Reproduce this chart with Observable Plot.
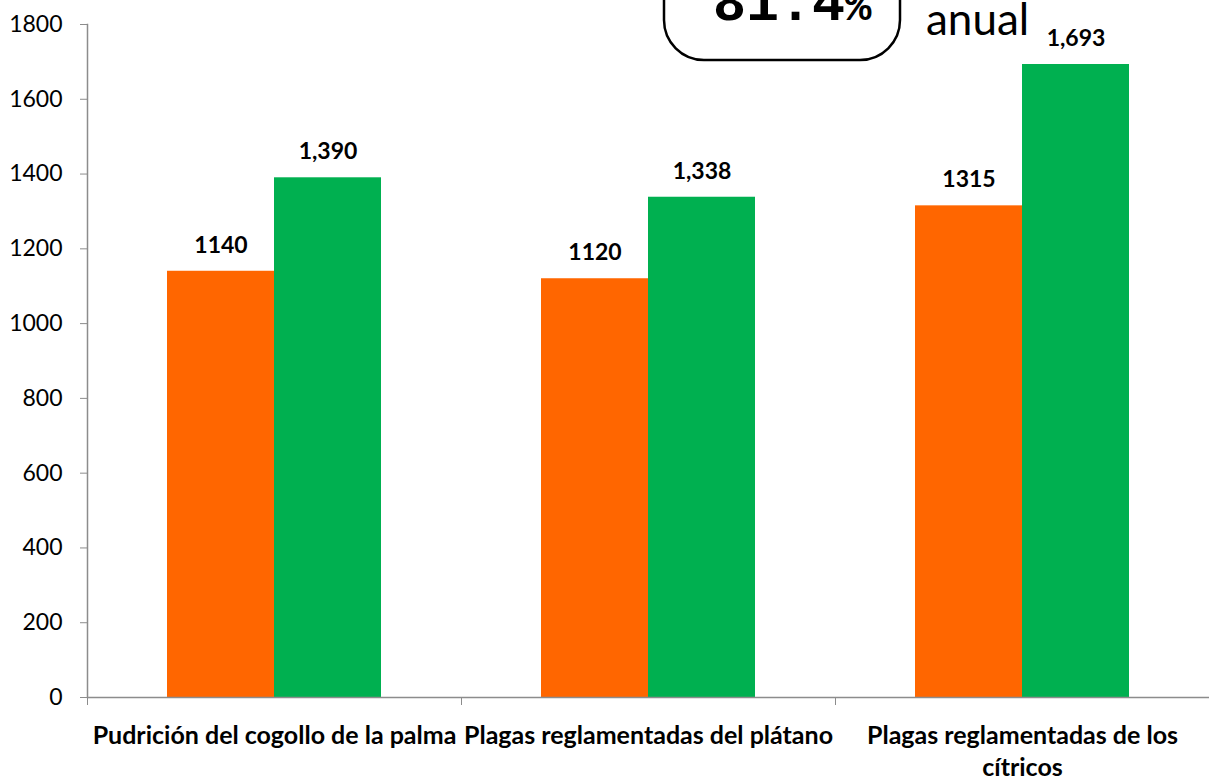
<!DOCTYPE html>
<html><head><meta charset="utf-8">
<script src="https://cdn.jsdelivr.net/npm/d3@7"></script>
<script src="https://cdn.jsdelivr.net/npm/@observablehq/plot@0.6"></script>
<style>
body{margin:0;background:#fff;font-family:Lato,"Open Sans",sans-serif;overflow:hidden}
#wrap{position:relative;width:1209px;height:776px;overflow:hidden}
#overlay{position:absolute;left:0;top:0;pointer-events:none}
</style></head>
<body><div id="wrap"><div id="chart"></div>
<svg id="overlay" width="1209" height="776" viewBox="0 0 1209 776">
  <rect x="664" y="-120" width="236" height="180" rx="40" ry="40" fill="white" stroke="black" stroke-width="2.5"></rect>
  <text x="713" y="20" font-family="'Liberation Mono', 'DejaVu Sans Mono', monospace" font-weight="bold" font-size="55" fill="black">81.4<tspan font-size="44">%</tspan></text>
  <text x="926" y="35" font-family="Lato, sans-serif" font-size="44" fill="black">anual</text>
</svg></div>
<script>
const categories = ["Pudrición del cogollo de la palma", "Plagas reglamentadas del plátano", "Plagas reglamentadas de los cítricos"];
const tickLabels = ["Pudrición del cogollo de la palma", "Plagas reglamentadas del plátano", "Plagas reglamentadas de los\ncítricos"];
const series = ["Serie 1", "Serie 2"];
const serie1 = [1140, 1120, 1315];
const serie2 = [1390, 1338, 1693];
const valueLabels1 = ["1140", "1120", "1315"];
const valueLabels2 = ["1,390", "1,338", "1,693"];
const yTicks = [0, 200, 400, 600, 800, 1000, 1200, 1400, 1600, 1800];
const colors = ["#FF6600", "#00B050"];

const data = [];
categories.forEach((c, i) => {
  data.push({cat: c, s: series[0], v: serie1[i], label: valueLabels1[i]});
  data.push({cat: c, s: series[1], v: serie2[i], label: valueLabels2[i]});
});

const W = 1209, ML = 87, MR = 0;
const band = (W - ML - MR) / categories.length;

const plot = Plot.plot({
  width: W, height: 776,
  marginLeft: ML, marginRight: MR, marginTop: 24, marginBottom: 79,
  style: {fontFamily: "Lato, 'Open Sans', sans-serif", background: "white", overflow: "visible"},
  fx: {domain: categories, padding: 0, axis: null, label: null},
  x: {domain: series, paddingInner: 0, paddingOuter: 0.744, axis: null},
  y: {domain: [0, 1800], axis: null},
  color: {domain: series, range: colors},
  marks: [
    Plot.barY(data, {fx: "cat", x: "s", y: "v", fill: "s"}),
    Plot.text(data, {fx: "cat", x: "s", y: "v", text: "label", dy: -26, fontSize: 23, fontWeight: "bold", fill: "black"}),
    Plot.ruleY([0], {stroke: "#8c8c8c", strokeWidth: 1.5}),
    Plot.frame({anchor: "left", facetAnchor: "left", stroke: "#8c8c8c", strokeWidth: 1.5}),
    Plot.axisY({ticks: yTicks, tickSize: 7, tickPadding: 18, fontSize: 23, stroke: "#8c8c8c", fill: "black", label: null, tickFormat: d => String(d)}),
    Plot.axisFx({anchor: "bottom", tickSize: 0, tickPadding: 24, fontSize: 25, fontWeight: "bold", lineHeight: 1.28, fill: "black", label: null,
      tickFormat: d => tickLabels[categories.indexOf(d)]}),
    Plot.axisFx({anchor: "bottom", tickSize: 8, stroke: "#8c8c8c", dx: -band / 2, label: null, tickFormat: () => ""})
  ]
});
document.getElementById("chart").appendChild(plot);
</script></body></html>
